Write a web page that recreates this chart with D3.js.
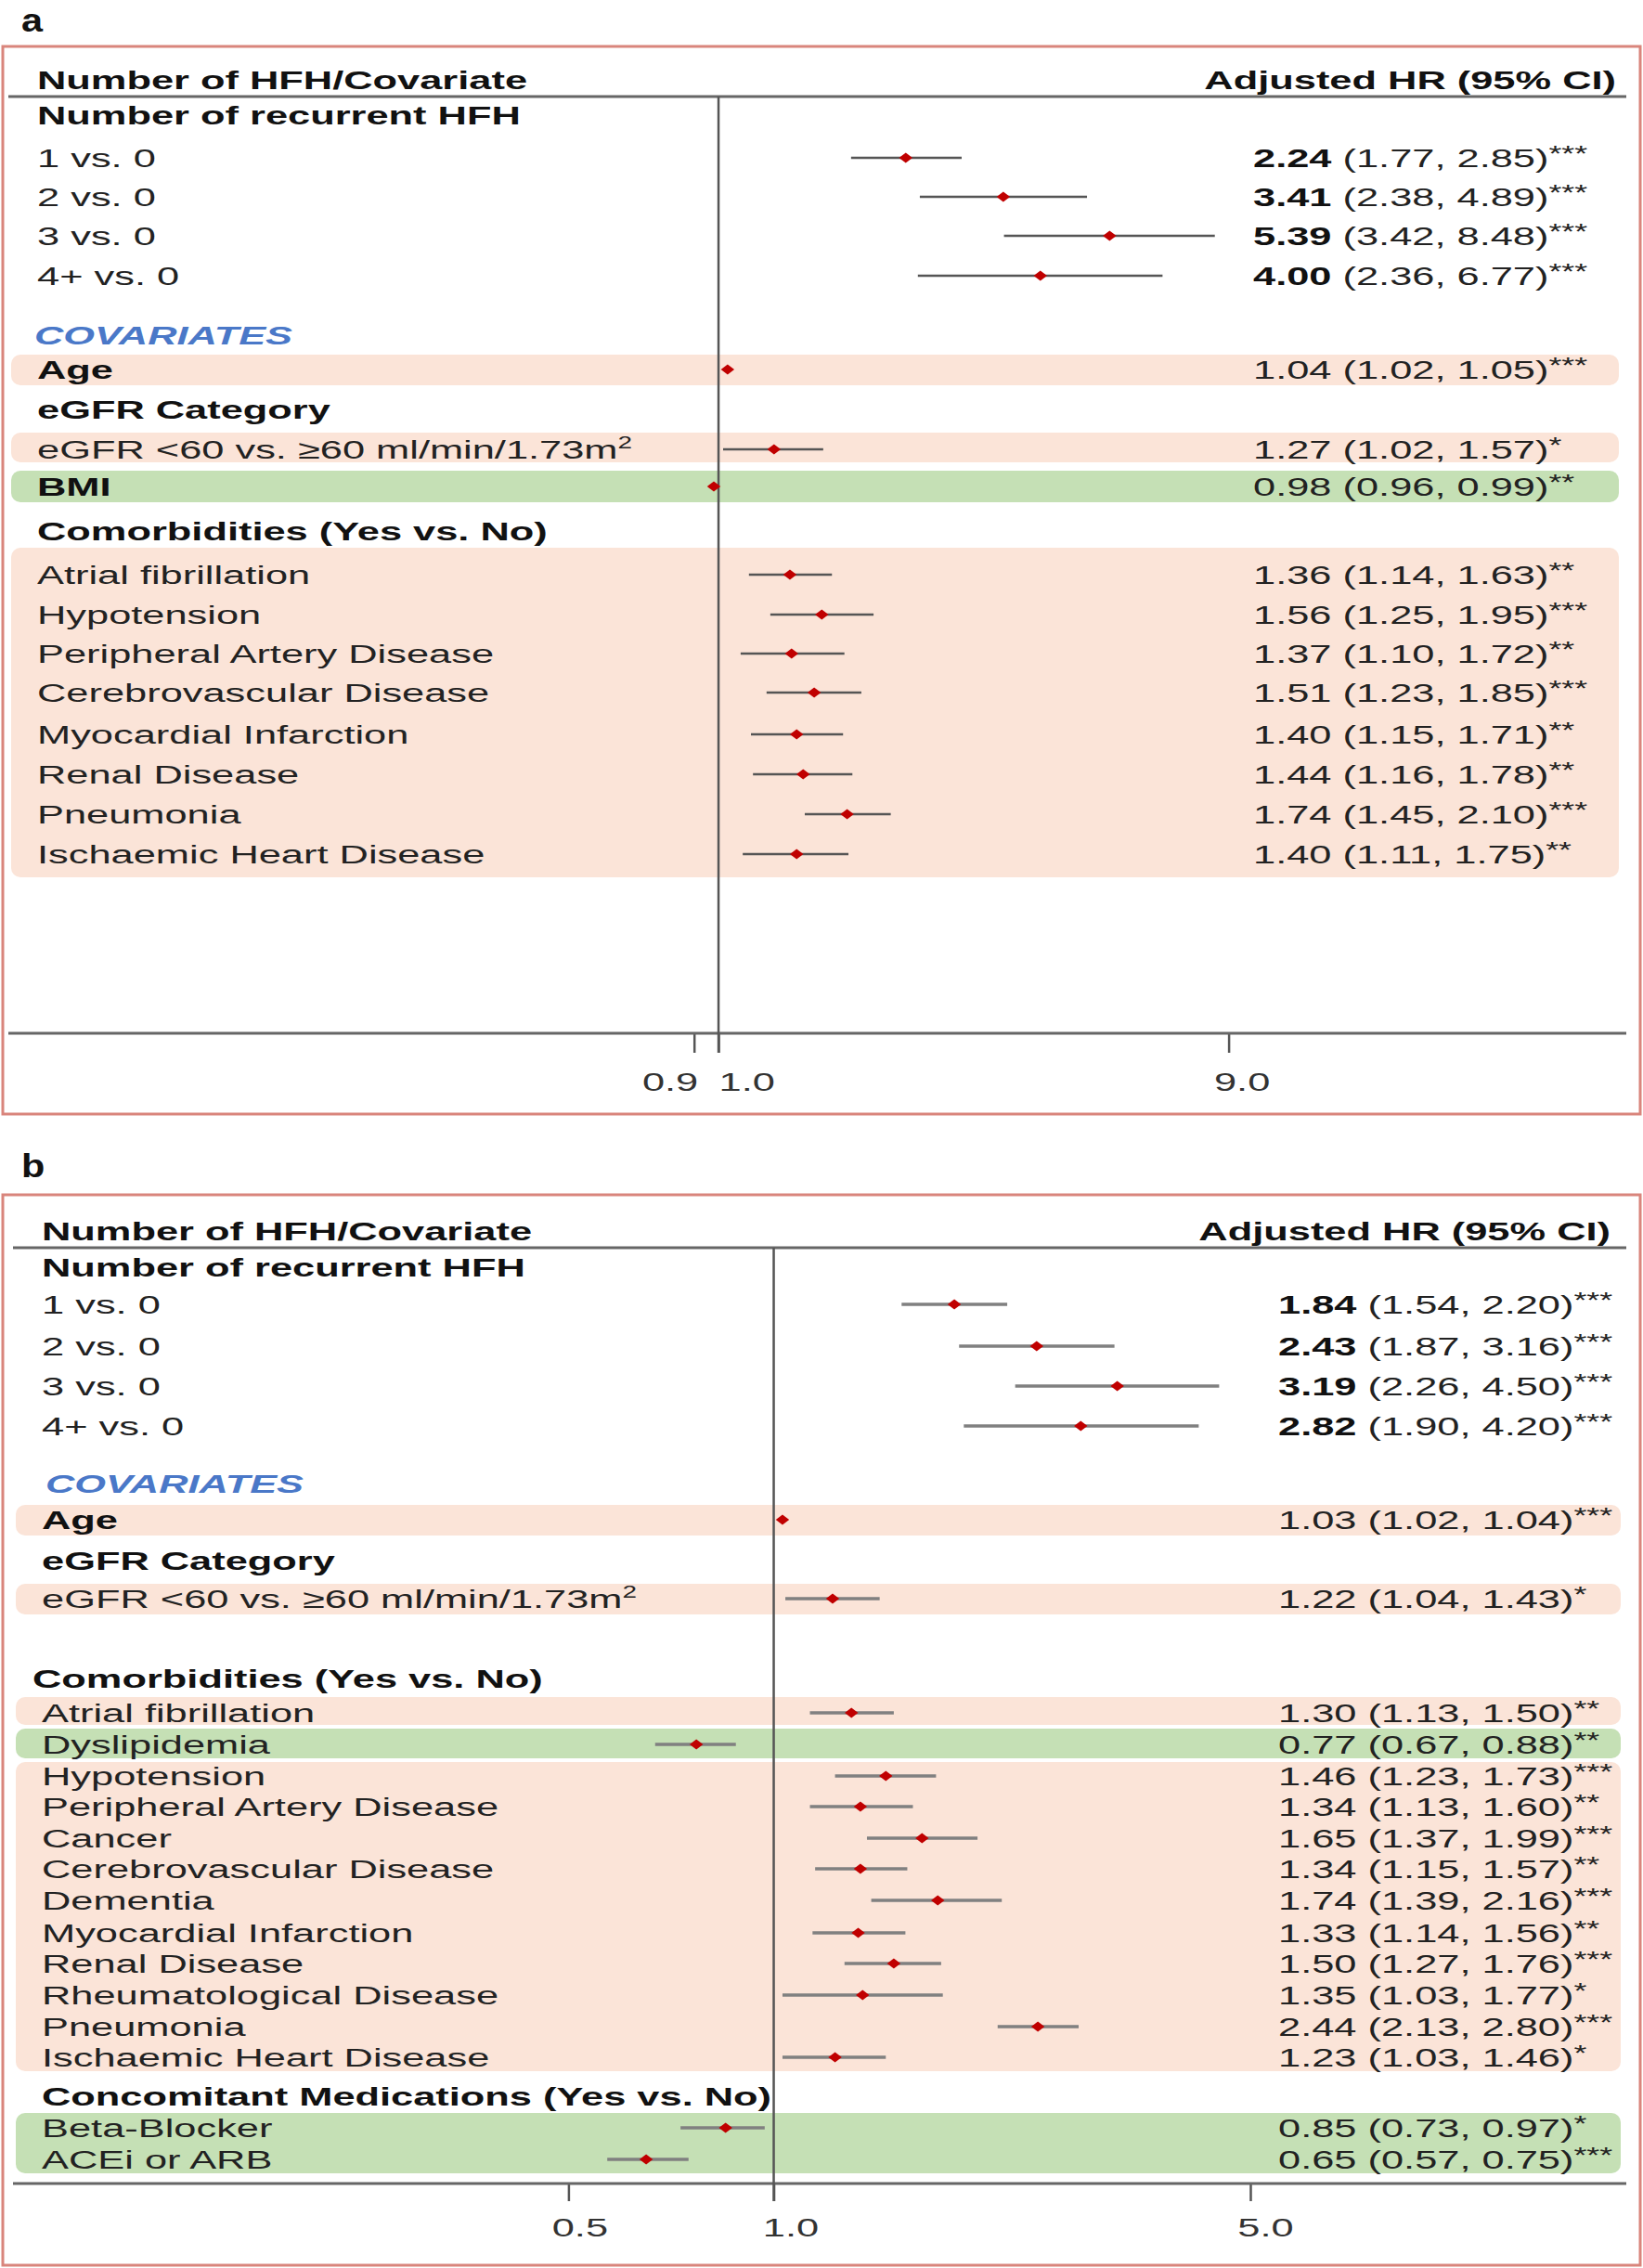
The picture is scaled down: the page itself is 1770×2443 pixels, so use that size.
<!DOCTYPE html>
<html>
<head>
<meta charset="utf-8">
<script src="https://cdn.jsdelivr.net/npm/d3@7"></script>
<style>
  body { margin: 0; background: #fff; }
  svg { display: block; }
</style>
</head>
<body>
<svg id="chart" width="1770" height="2443"></svg>
<script>
// ---- data, panel a ----
const sectionsA = ["Number of recurrent HFH", "COVARIATES", "eGFR Category", "Comorbidities (Yes vs. No)"];
const labelsA = ["1 vs. 0", "2 vs. 0", "3 vs. 0", "4+ vs. 0", "Age", "eGFR <60 vs. \u226560 ml/min/1.73m", "BMI",
    "Atrial fibrillation", "Hypotension", "Peripheral Artery Disease", "Cerebrovascular Disease",
    "Myocardial Infarction", "Renal Disease", "Pneumonia", "Ischaemic Heart Disease"];
const hrA   = [2.24, 3.41, 5.39, 4.00, 1.04, 1.27, 0.98, 1.36, 1.56, 1.37, 1.51, 1.40, 1.44, 1.74, 1.40];
const lowA  = [1.77, 2.38, 3.42, 2.36, 1.02, 1.02, 0.96, 1.14, 1.25, 1.10, 1.23, 1.15, 1.16, 1.45, 1.11];
const highA = [2.85, 4.89, 8.48, 6.77, 1.05, 1.57, 0.99, 1.63, 1.95, 1.72, 1.85, 1.71, 1.78, 2.10, 1.75];
const sigA  = ["***", "***", "***", "***", "***", "*", "**", "**", "***", "**", "***", "**", "**", "***", "**"];
const ticksA = [0.9, 1.0, 9.0];

// ---- data, panel b ----
const sectionsB = ["Number of recurrent HFH", "COVARIATES", "eGFR Category", "Comorbidities (Yes vs. No)",
    "Concomitant Medications (Yes vs. No)"];
const labelsB = ["1 vs. 0", "2 vs. 0", "3 vs. 0", "4+ vs. 0", "Age", "eGFR <60 vs. \u226560 ml/min/1.73m",
    "Atrial fibrillation", "Dyslipidemia", "Hypotension", "Peripheral Artery Disease", "Cancer",
    "Cerebrovascular Disease", "Dementia", "Myocardial Infarction", "Renal Disease", "Rheumatological Disease",
    "Pneumonia", "Ischaemic Heart Disease", "Beta-Blocker", "ACEi or ARB"];
const hrB   = [1.84, 2.43, 3.19, 2.82, 1.03, 1.22, 1.30, 0.77, 1.46, 1.34, 1.65, 1.34, 1.74, 1.33, 1.50, 1.35, 2.44, 1.23, 0.85, 0.65];
const lowB  = [1.54, 1.87, 2.26, 1.90, 1.02, 1.04, 1.13, 0.67, 1.23, 1.13, 1.37, 1.15, 1.39, 1.14, 1.27, 1.03, 2.13, 1.03, 0.73, 0.57];
const highB = [2.20, 3.16, 4.50, 4.20, 1.04, 1.43, 1.50, 0.88, 1.73, 1.60, 1.99, 1.57, 2.16, 1.56, 1.76, 1.77, 2.80, 1.46, 0.97, 0.75];
const sigB  = ["***", "***", "***", "***", "***", "*", "**", "**", "***", "**", "***", "**", "***", "**", "***", "*", "***", "*", "*", "***"];
const ticksB = [0.5, 1.0, 5.0];

// ---- layout (row order and gaps in px) ----
const layoutA = [["s0", 124], ["r0", 46], ["r1", 42], ["r2", 42], ["r3", 43], ["s1", 64], ["r4", 37], ["s2", 43],
    ["r5", 43], ["r6", 40], ["s3", 48], ["r7", 47], ["r8", 43], ["r9", 42], ["r10", 42], ["r11", 45], ["r12", 43],
    ["r13", 43], ["r14", 43]];
const layoutB = [["s0", 1365], ["r0", 40], ["r1", 45], ["r2", 43], ["r3", 43], ["s1", 62], ["r4", 39], ["s2", 44],
    ["r5", 41], ["s3", 86], ["r6", 37], ["r7", 34], ["r8", 34], ["r9", 33], ["r10", 34], ["r11", 33], ["r12", 34],
    ["r13", 35], ["r14", 33], ["r15", 34], ["r16", 34], ["r17", 33], ["s4", 42], ["r18", 34], ["r19", 34]];

const PEACH = "#fbe4d8";
const GREEN = "#c5e0b5";
const FONT = "'Liberation Sans', Arial, Helvetica, sans-serif";
const SX = 1.55; // the figure text is stretched sideways

const svg = d3.select("#chart");

function rowScale(layout) {
    let acc = 0;
    const ys = layout.map(d => (acc += d[1]));
    return d3.scaleOrdinal().domain(layout.map(d => d[0])).range(ys);
}

// text with tspans, stretched horizontally
function addText(g, x, y, parts, anchor) {
    const t = g.append("text")
        .attr("transform", `translate(${x},${y}) scale(${SX},1)`)
        .attr("text-anchor", anchor || "start")
        .attr("font-family", FONT)
        .attr("font-size", 28)
        .attr("fill", "#222");
    parts.forEach(p => {
        const s = t.append("tspan").text(p.s);
        if (p.bold) s.attr("font-weight", "bold").attr("fill", "#111");
        if (p.italic) s.attr("font-style", "italic");
        if (p.color) s.attr("fill", p.color);
        if (p.size) s.attr("font-size", p.size);
        if (p.dy) s.attr("dy", p.dy);
    });
    return t;
}

function drawPanel(cfg) {
    const g = svg.append("g");
    const y = rowScale(cfg.layout);
    const x = d3.scaleLog().domain(cfg.domain).range(cfg.range);

    // panel letter and frame
    addText(g, 23, cfg.letterY, [{ s: cfg.letter, bold: true }]).attr("font-size", 36)
        .attr("transform", `translate(23,${cfg.letterY}) scale(1.15,1)`);
    g.append("rect")
        .attr("x", 3).attr("y", cfg.frame[0]).attr("width", 1764).attr("height", cfg.frame[1] - cfg.frame[0])
        .attr("fill", "none").attr("stroke", "#d9857c").attr("stroke-width", 3);

    // shaded bands
    cfg.bands.forEach(b => {
        const top = y(b.from) - b.pt, bot = y(b.to) + b.pb;
        g.append("rect")
            .attr("x", cfg.bandX[0]).attr("y", top)
            .attr("width", cfg.bandX[1] - cfg.bandX[0]).attr("height", bot - top)
            .attr("rx", 10).attr("fill", b.fill);
    });

    // column headers
    addText(g, cfg.labelX, cfg.headY, [{ s: "Number of HFH/Covariate", bold: true }]);
    addText(g, cfg.headRight, cfg.headY, [{ s: "Adjusted HR (95% CI)", bold: true }], "end");
    g.append("line")
        .attr("x1", cfg.ruleX[0]).attr("x2", cfg.ruleX[1])
        .attr("y1", cfg.headY + 8).attr("y2", cfg.headY + 8)
        .attr("stroke", "#666").attr("stroke-width", 3);

    // axis
    const axis = d3.axisBottom(x).tickValues(cfg.ticks).tickFormat(d3.format(".1f")).tickSize(cfg.tickLen);
    const ga = g.append("g").attr("transform", `translate(0,${cfg.axisY})`).call(axis);
    ga.select(".domain").remove();
    ga.attr("font-family", FONT).attr("font-size", 28);
    ga.selectAll(".tick line").attr("stroke", "#555").attr("stroke-width", 2.5);
    ga.selectAll(".tick text")
        .attr("y", cfg.tickTextY).attr("dy", null).attr("fill", "#333")
        .attr("transform", `scale(${SX},1)`)
        .attr("text-anchor", (d, i) => cfg.tickAnchor[i])
        .attr("x", (d, i) => cfg.tickDx[i] / SX);
    g.append("line")
        .attr("x1", cfg.ruleX[0]).attr("x2", cfg.ruleX[1])
        .attr("y1", cfg.axisY).attr("y2", cfg.axisY)
        .attr("stroke", "#666").attr("stroke-width", 3);

    // reference line at HR = 1
    g.append("line")
        .attr("x1", x(1)).attr("x2", x(1))
        .attr("y1", cfg.headY + 8).attr("y2", cfg.axisY + cfg.tickLen)
        .attr("stroke", "#555").attr("stroke-width", 2.5);

    // section headers
    cfg.sections.forEach((s, i) => {
        const isCov = s === "COVARIATES";
        addText(g, cfg.sectionX[i], y("s" + i) + 10,
            [{ s: s, bold: true, italic: isCov, color: isCov ? "#4a78c8" : null }]);
    });

    // rows
    const idx = d3.range(cfg.labels.length);
    idx.forEach(i => {
        const yy = y("r" + i);
        const lab = cfg.labels[i];
        const parts = [{ s: lab }];
        if (lab.startsWith("eGFR")) parts.push({ s: "2", size: 18, dy: -11 });
        if (lab === "Age" || lab === "BMI") parts[0].bold = true;
        addText(g, cfg.labelX, yy + 10, parts);

        const bold = i < 4;
        addText(g, cfg.valueX, yy + 10, [
            { s: cfg.hr[i].toFixed(2), bold: bold },
            { s: " (" + cfg.low[i].toFixed(2) + ", " + cfg.high[i].toFixed(2) + ")" },
            { s: cfg.sig[i], size: 23, dy: -6 }
        ]);
    });

    g.selectAll("line.ci").data(idx).enter().append("line")
        .attr("class", "ci")
        .attr("x1", i => x(cfg.low[i])).attr("x2", i => x(cfg.high[i]))
        .attr("y1", i => y("r" + i)).attr("y2", i => y("r" + i))
        .attr("stroke", cfg.ciColor).attr("stroke-width", cfg.ciWidth);

    const diamond = d3.symbol(d3.symbolSquare, 62);
    g.selectAll("path.pt").data(idx).enter().append("path")
        .attr("class", "pt")
        .attr("d", diamond)
        .attr("transform", i => `translate(${x(cfg.hr[i])},${y("r" + i)}) scale(1.3,1) rotate(45)`)
        .attr("fill", "#c00000");
}

drawPanel({
    letter: "a", letterY: 34, frame: [50, 1200],
    layout: layoutA, sections: sectionsA, labels: labelsA,
    hr: hrA, low: lowA, high: highA, sig: sigA, ticks: ticksA,
    domain: [0.9, 9], range: [747.7, 1323.6],
    bands: [
        { from: "r4", to: "r4", fill: PEACH, pt: 16, pb: 17 },
        { from: "r5", to: "r5", fill: PEACH, pt: 18, pb: 14 },
        { from: "r6", to: "r6", fill: GREEN, pt: 17, pb: 17 },
        { from: "r7", to: "r14", fill: PEACH, pt: 29, pb: 25 }
    ],
    bandX: [12, 1744], ruleX: [9, 1752],
    headY: 96, headRight: 1741, labelX: 40, valueX: 1350,
    sectionX: [40, 37, 40, 40],
    axisY: 1113, tickLen: 21, tickTextY: 62,
    tickAnchor: ["end", "start", "middle"], tickDx: [4, 0, 14],
    ciColor: "#555", ciWidth: 2.3
});

drawPanel({
    letter: "b", letterY: 1268, frame: [1287, 2440],
    layout: layoutB, sections: sectionsB, labels: labelsB,
    hr: hrB, low: lowB, high: highB, sig: sigB, ticks: ticksB,
    domain: [0.5, 5], range: [612.4, 1347],
    bands: [
        { from: "r4", to: "r4", fill: PEACH, pt: 16, pb: 17 },
        { from: "r5", to: "r5", fill: PEACH, pt: 16, pb: 17 },
        { from: "r6", to: "r6", fill: PEACH, pt: 17, pb: 13 },
        { from: "r7", to: "r7", fill: GREEN, pt: 17, pb: 15 },
        { from: "r8", to: "r17", fill: PEACH, pt: 15, pb: 15 },
        { from: "r18", to: "r19", fill: GREEN, pt: 16, pb: 15 }
    ],
    bandX: [17, 1746], ruleX: [14, 1752],
    headY: 1336, headRight: 1735, labelX: 45, valueX: 1377,
    sectionX: [45, 49, 45, 35, 45],
    axisY: 2352, tickLen: 19, tickTextY: 57,
    tickAnchor: ["middle", "middle", "middle"], tickDx: [12, 18, 16],
    ciColor: "#808080", ciWidth: 3.5
});
</script>
</body>
</html>
